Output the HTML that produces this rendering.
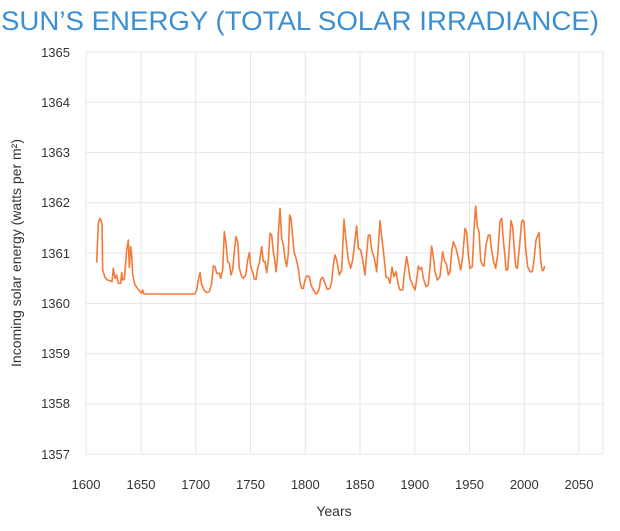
<!DOCTYPE html>
<html><head><style>body{margin:0;background:#fff}svg{display:block;font-family:"Liberation Sans",sans-serif}</style></head>
<body>
<svg width="620" height="531" xmlns="http://www.w3.org/2000/svg">
<text x="1" y="30" font-size="27" fill="#3b8fd1" textLength="598" lengthAdjust="spacingAndGlyphs">SUN’S ENERGY (TOTAL SOLAR IRRADIANCE)</text>
<g stroke="#e6e6e6" stroke-width="1">
<line x1="86" y1="52" x2="603" y2="52"/><line x1="86" y1="102.3" x2="603" y2="102.3"/><line x1="86" y1="152.6" x2="603" y2="152.6"/><line x1="86" y1="202.8" x2="603" y2="202.8"/><line x1="86" y1="253.1" x2="603" y2="253.1"/><line x1="86" y1="303.4" x2="603" y2="303.4"/><line x1="86" y1="353.6" x2="603" y2="353.6"/><line x1="86" y1="403.9" x2="603" y2="403.9"/><line x1="86" y1="454" x2="603" y2="454"/>
<line x1="86" y1="52" x2="86" y2="454"/><line x1="141" y1="52" x2="141" y2="454"/><line x1="195.7" y1="52" x2="195.7" y2="454"/><line x1="250.5" y1="52" x2="250.5" y2="454"/><line x1="305.3" y1="52" x2="305.3" y2="454"/><line x1="360" y1="52" x2="360" y2="454"/><line x1="414.8" y1="52" x2="414.8" y2="454"/><line x1="469.5" y1="52" x2="469.5" y2="454"/><line x1="524.3" y1="52" x2="524.3" y2="454"/><line x1="579" y1="52" x2="579" y2="454"/><line x1="603" y1="52" x2="603" y2="454"/>
</g>
<g font-size="13" fill="#333" text-anchor="end">
<text x="70" y="57">1365</text><text x="70" y="107">1364</text><text x="70" y="157">1363</text><text x="70" y="207">1362</text><text x="70" y="258">1361</text><text x="70" y="308">1360</text><text x="70" y="358">1359</text><text x="70" y="408">1358</text><text x="70" y="459">1357</text>
</g>
<g font-size="13" fill="#333" text-anchor="middle">
<text x="86" y="489">1600</text><text x="141" y="489">1650</text><text x="195.7" y="489">1700</text><text x="250.5" y="489">1750</text><text x="305.3" y="489">1800</text><text x="360" y="489">1850</text><text x="414.8" y="489">1900</text><text x="469.5" y="489">1950</text><text x="524.3" y="489">2000</text><text x="579" y="489">2050</text>
<text x="334" y="516" font-size="14">Years</text>
<text transform="translate(21,253) rotate(-90)" font-size="14">Incoming solar energy (watts per m²)</text>
</g>
<g fill="none" stroke="#f47a3a" stroke-width="1.6" stroke-linejoin="round">
<g transform="translate(80,190) scale(0.33333)"><polyline vector-effect="non-scaling-stroke" points="50,218 55,100 60,85 66,100 68,240 75,262 82,270 90,272 96,275 100,235 105,265 110,255 115,280 122,280 125,248 128,270 133,268 140,180 145,150 148,232 152,170 155,195 158,255 165,285 175,298 185,310 188,300 192,312 345,312 350,300 355,270 360,248 365,285 372,300 380,308 388,305 395,280 400,228 405,230 410,250 418,250 422,265 428,240 433,125 438,160 443,215 448,220 453,255 458,240 463,185 468,140 473,155 478,235 485,260 490,265 497,255 503,210 508,188 512,230 518,245 523,268 528,268 533,235 538,220 545,170 550,215 555,215 560,248 565,210 570,130 575,135 580,185 585,215 588,245 592,210 595,130 600,55 605,145 610,165 615,205 620,230 625,190 629,75 633,85 638,140 642,185 648,205 655,235 660,275 665,295 670,295 675,270 680,258 688,260 693,285 700,300 708,312 712,310 718,295 722,268 728,262 735,280 742,298 750,295"/></g>
<g transform="translate(330,190) scale(0.33333)"><polyline vector-effect="non-scaling-stroke" points="0,295 5,275 10,225 15,195 20,210 28,255 35,240 42,88 48,150 55,210 62,235 68,210 75,150 80,108 85,175 92,180 98,210 105,255 110,190 115,135 120,135 125,180 130,195 135,215 140,245 150,92 155,140 162,200 168,260 175,265 180,280 186,232 192,260 198,245 205,285 210,300 218,300 222,260 230,200 235,230 240,265 248,285 255,300 260,270 265,228 270,238 275,232 280,265 288,290 295,285 300,230 305,168 310,200 315,245 322,270 330,260 338,185 343,210 350,225 355,255 360,245 365,185 370,155 378,175 385,205 392,240 398,200 405,115 410,125 415,195 420,235 427,230 432,120 437,48 442,110 447,125 452,210 457,225 462,228 468,165 475,135 480,135 484,175 490,210 497,235 503,195 510,95 515,85 520,150 525,200 528,240 533,240 538,170 543,92 548,110 552,165 557,230 562,235 568,175 575,95 578,90 582,95 587,175 593,230 600,245 607,245 612,210 618,150 622,140 627,128 632,210 636,240 640,242 644,228"/></g>
</g>
</svg>
</body></html>
